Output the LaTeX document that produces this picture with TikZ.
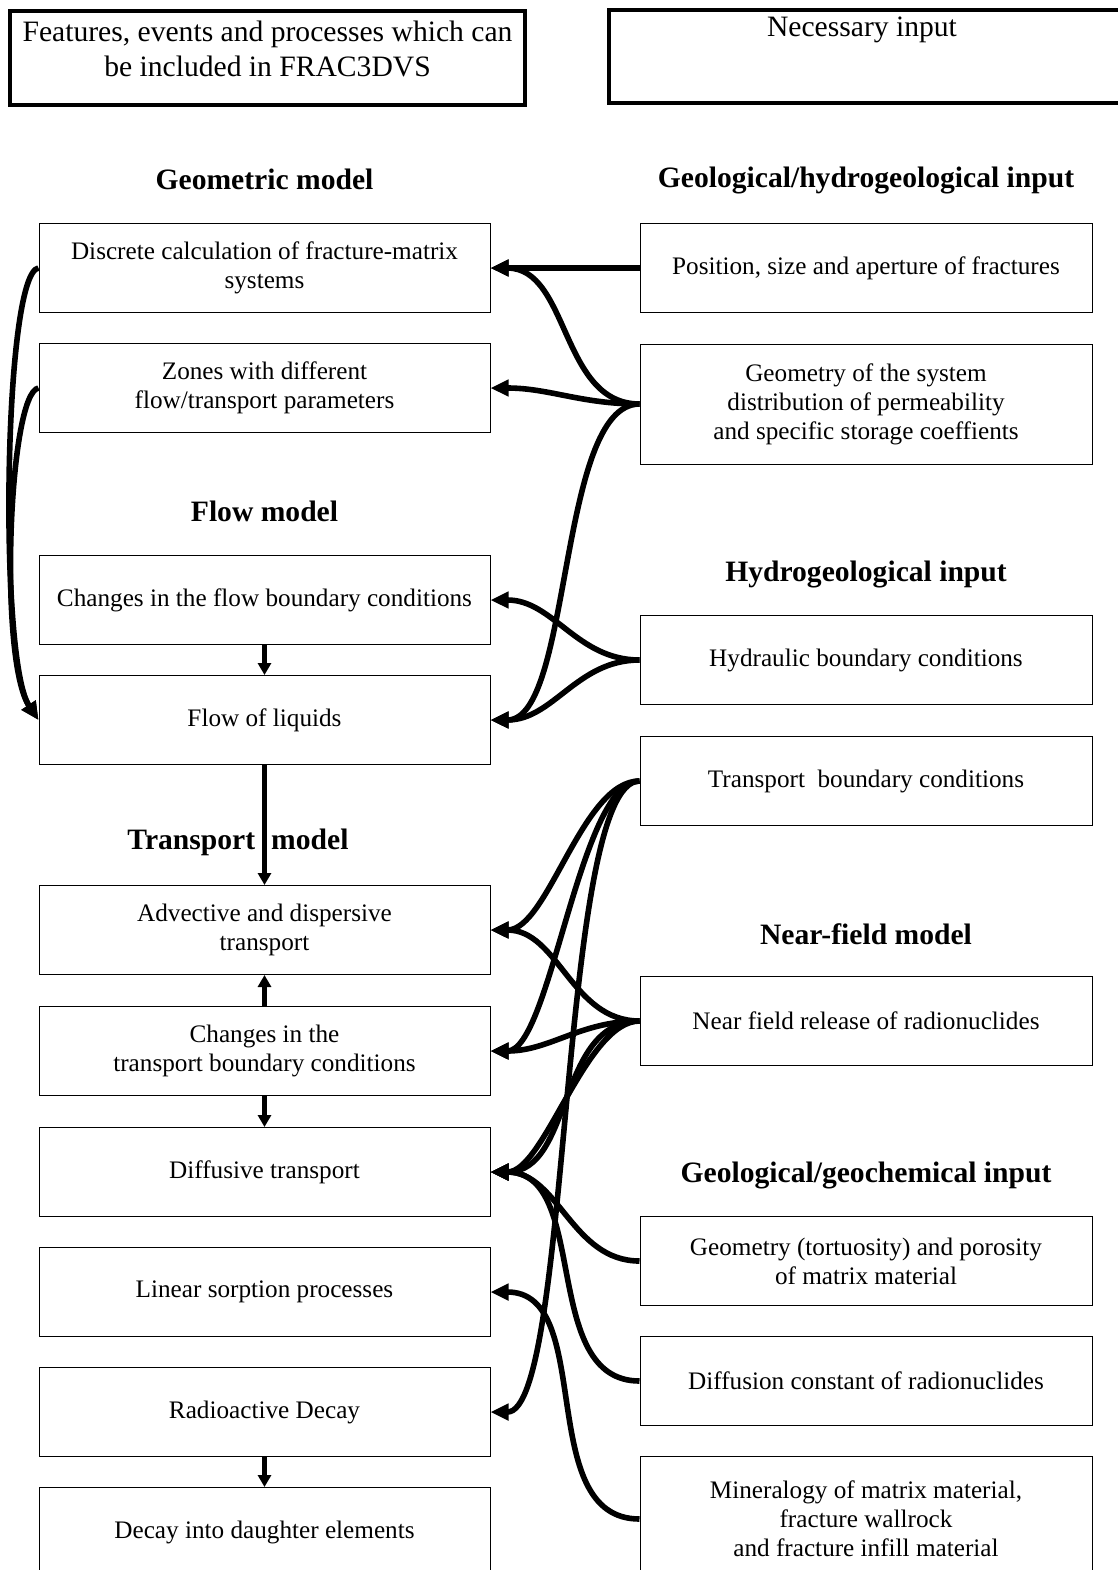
\documentclass[tikz,border=0pt]{standalone}
\usepackage{fontspec}
\setmainfont{Liberation Serif}
\usetikzlibrary{arrows.meta}
\begin{document}
\begin{tikzpicture}[x=0.5pt,y=-0.5pt,
	fep/.style={draw,line width=0.5pt,minimum width=225.5pt,minimum height=44.5pt,align=center,inner sep=2pt,font=\fontsize{12.6}{14.5}\selectfont},
	need/.style={fep,minimum width=226pt},
	heading/.style={font=\fontsize{14.8}{17}\selectfont\bfseries},
	topbox/.style={draw,line width=1.6pt,minimum height=47pt},
	link/.style={line width=2.8pt,-{Triangle[length=9pt,width=8pt]}},
	down/.style={line width=2.6pt,-{Triangle[length=6pt,width=6.5pt]}}]
	\useasboundingbox (0,0) rectangle (1118,1570);
	\def\xL{264.5};
	\def\xR{866};
	% headers
	\node[topbox,minimum width=257.5pt] (fepbox) at (267.5,58) {};
	\node[font=\fontsize{14.8}{17.5}\selectfont,align=center] (feptext) at (267.5,49) {Features, events and processes which can\\be included in FRAC3DVS};
	\node[topbox,minimum width=258pt,minimum height=46.5pt] (needbox) at (867,56.5) {};
	\node[font=\fontsize{14.8}{17.5}\selectfont] (needtext) at (862,30) {Necessary input};
	% left column
	\node[heading] (hgeo) at (\xL,179) {Geometric model};
	\node[fep] (L1) at (\xL,268) {Discrete calculation of fracture-matrix\\systems};
	\node[fep] (L2) at (\xL,388) {Zones with different\\flow/transport parameters};
	\node[heading] (hflow) at (\xL,511) {Flow model};
	\node[fep] (L3) at (\xL,600) {Changes in the flow boundary conditions};
	\node[fep] (L4) at (\xL,720) {Flow of liquids};
	\node[heading] (htrans) at (238,842) {Transport\hspace{8pt}model};
	\node[fep] (L5) at (\xL,930) {Advective and dispersive\\transport};
	\node[fep] (L6) at (\xL,1051) {Changes in the\\transport boundary conditions};
	\node[fep] (L7) at (\xL,1172) {Diffusive transport};
	\node[fep] (L8) at (\xL,1292) {Linear sorption processes};
	\node[fep] (L9) at (\xL,1412) {Radioactive Decay};
	\node[fep] (L10) at (\xL,1532) {Decay into daughter elements};
	% right column
	\node[heading] (hgeohyd) at (\xR,180) {Geological/hydrogeological input};
	\node[need] (R1) at (\xR,268) {Position, size and aperture of fractures};
	\node[need,minimum height=60pt] (R2) at (\xR,404) {Geometry of the system\\distribution of permeability\\and specific storage coeffients};
	\node[heading] (hhyd) at (\xR,574) {Hydrogeological input};
	\node[need] (R3) at (\xR,660) {Hydraulic boundary conditions};
	\node[need] (R4) at (\xR,781) {Transport\ \ boundary conditions};
	\node[heading] (hnear) at (\xR,934) {Near-field model};
	\node[need] (R5) at (\xR,1021) {Near field release of radionuclides};
	\node[heading] (hgeochem) at (\xR,1175) {Geological/geochemical input};
	\node[need] (R6) at (\xR,1261) {Geometry (tortuosity) and porosity\\of matrix material};
	\node[need] (R7) at (\xR,1381) {Diffusion constant of radionuclides};
	\node[need,minimum height=62.5pt] (R8) at (\xR,1519) {Mineralogy of matrix material,\\fracture wallrock\\and fracture infill material};
	% input links
	\foreach \a/\b in {R1/L1,R2/L1,R2/L2,R3/L3,R3/L4,R5/L5,R5/L6,R5/L7,R6/L7,R7/L7,R8/L8}
		\draw[link] (\a.west) to[out=180,in=0] (\b.east);
	\foreach \a/\b/\l in {R2/L4/0.6,R4/L5/0.7,R4/L6/0.5,R4/L9/0.32,R5/L7/0.65}
		\draw[link] (\a.west) to[out=180,in=0,looseness=\l] (\b.east);
	% model chain
	\draw[down] (L3.south) -- (L4.north);
	\draw[down] (L4.south) -- (L5.north);
	\draw[down] (L6.north) -- (L5.south);
	\draw[down] (L6.south) -- (L7.north);
	\draw[down] (L9.south) -- (L10.north);
	\draw[link] (L1.west) .. controls +(-35,5) and +(-40,-60) .. (L4.west);
	\draw[link] (L2.west) .. controls +(-30,5) and +(-40,-60) .. (L4.west);
\end{tikzpicture}
\end{document}
